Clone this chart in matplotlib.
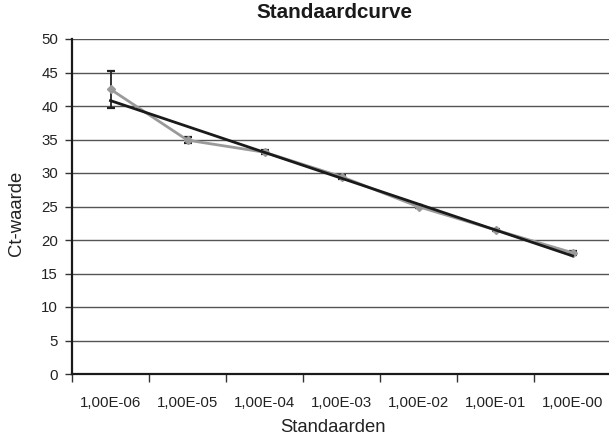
import matplotlib
matplotlib.use("Agg")
import matplotlib.pyplot as plt
import numpy as np

plt.rcParams['font.family'] = ['Liberation Sans', 'DejaVu Sans']

categories = ["1,00E-06", "1,00E-05", "1,00E-04", "1,00E-03", "1,00E-02", "1,00E-01", "1,00E-00"]
ct_values = [42.5, 34.9, 33.1, 29.45, 24.97, 21.5, 18.1]
ct_errors = [2.75, 0.4, 0.3, 0.3, 0.2, 0.2, 0.3]
y_ticks = [0, 5, 10, 15, 20, 25, 30, 35, 40, 45, 50]

fig = plt.figure(figsize=(6.09, 4.37), dpi=100)
ax = fig.add_axes([72/609, 1-374/437, (611-72)/609, (374-39)/437])

x = np.arange(len(categories))
ax.set_xlim(-0.5, len(categories) - 0.5)
ax.set_ylim(0, 50)

for yv in y_ticks[1:]:
    ax.axhline(yv, color='#555555', lw=1.0, zorder=1)

ax.errorbar(x, ct_values, yerr=ct_errors, fmt='none', ecolor='#222222',
            elinewidth=1.3, capsize=3, capthick=1.6, zorder=3)
ax.plot(x, ct_values, color='#9a9a9a', lw=2.0, marker='D', markersize=4,
        markerfacecolor='#9a9a9a', markeredgecolor='#9a9a9a', zorder=4)

coef = np.polyfit(x, ct_values, 1)
ax.plot(x, np.polyval(coef, x), color='#1a1a1a', lw=2.0, zorder=5)

ax.set_xticks(np.arange(len(categories) + 1) - 0.5, minor=False)
ax.set_xticklabels([])
ax.set_xticks(x, minor=True)
ax.set_xticklabels(categories, minor=True)
ax.tick_params(axis='x', which='major', length=6, width=1, color='#333333', direction='out')
ax.tick_params(axis='x', which='minor', length=0, pad=16, labelsize=10.8, labelcolor='#222222')
ax.set_yticks(y_ticks)
ax.tick_params(axis='y', length=5, width=1, color='#333333', pad=5, labelsize=10.8, labelcolor='#222222')

for s in ['top', 'right']:
    ax.spines[s].set_visible(False)
ax.spines['left'].set_linewidth(1.6)
ax.spines['bottom'].set_linewidth(1.6)
ax.spines['left'].set_color('#1a1a1a')
ax.spines['bottom'].set_color('#1a1a1a')

fig.text(333/609, 1-427/437, "Standaarden", fontsize=13.3, color='#222222',
         ha='center', va='center')
fig.text(17/609, 1-213/437, "Ct-waarde", fontsize=13.3, color='#222222',
         ha='center', va='center', rotation=90)

fig.text(334/609, 1-13/437, "Standaardcurve", fontsize=14.9, fontweight='bold',
         ha='center', va='center', color='#1a1a1a')

fig.savefig("out.png", dpi=100)
